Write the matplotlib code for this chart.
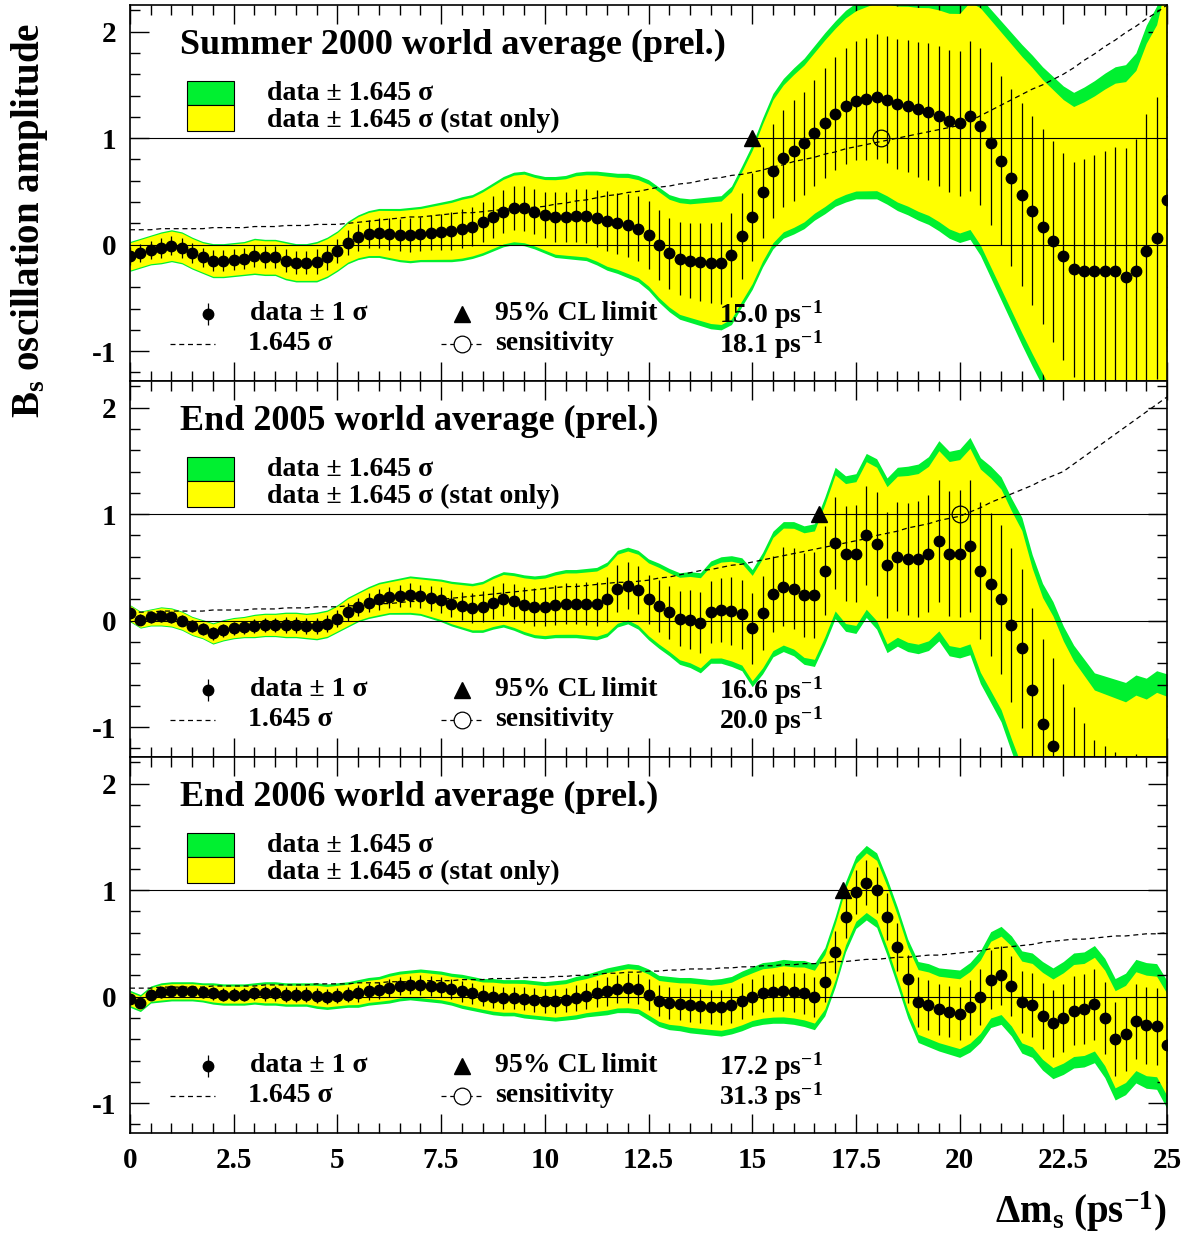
import matplotlib
matplotlib.use("Agg")
import matplotlib.pyplot as plt
import numpy as np
from matplotlib.ticker import MultipleLocator

plt.rcParams['font.family'] = ['Liberation Serif', 'DejaVu Serif']
plt.rcParams['font.weight'] = 'bold'
plt.rcParams['mathtext.fontset'] = 'custom'
plt.rcParams['mathtext.rm'] = 'Liberation Serif:bold'
plt.rcParams['mathtext.bf'] = 'Liberation Serif:bold'
plt.rcParams['mathtext.it'] = 'Liberation Serif:bold'

dm = np.arange(101) * 0.25

titles = ['Summer 2000 world average (prel.)',
          'End 2005 world average (prel.)',
          'End 2006 world average (prel.)']
limits = [15.0, 16.6, 17.2]
sensitivities = [18.1, 20.0, 31.3]
xtick_vals = [0, 2.5, 5, 7.5, 10, 12.5, 15, 17.5, 20, 22.5, 25]
xtick_labels = ['0', '2.5', '5', '7.5', '10', '12.5', '15', '17.5', '20', '22.5', '25']

amp_2000 = [-0.11, -0.08, -0.05, -0.03, -0.01, -0.03, -0.08, -0.12, -0.15, -0.15, -0.14,
            -0.13, -0.11, -0.12, -0.12, -0.15, -0.17, -0.17, -0.16, -0.12, -0.06,
            0.02, 0.07, 0.10, 0.11, 0.10, 0.09, 0.09, 0.10, 0.11, 0.12,
            0.13, 0.15, 0.17, 0.21, 0.26, 0.31, 0.34, 0.34, 0.31, 0.28,
            0.26, 0.26, 0.27, 0.27, 0.25, 0.22, 0.20, 0.18, 0.15, 0.09,
            0.00, -0.08, -0.13, -0.15, -0.16, -0.17, -0.17, -0.10, 0.08,
            0.26, 0.49, 0.69, 0.81, 0.88, 0.95, 1.05, 1.14, 1.23, 1.30,
            1.35, 1.37, 1.39, 1.36, 1.32, 1.30, 1.27, 1.25, 1.21, 1.16,
            1.14, 1.21, 1.11, 0.95, 0.79, 0.63, 0.47, 0.32, 0.17, 0.03,
            -0.11, -0.23, -0.25, -0.25, -0.25, -0.25, -0.30, -0.25, -0.06, 0.06, 0.42]
amp_2005 = [0.07, 0.01, 0.03, 0.04, 0.03, 0.00, -0.05, -0.08, -0.12, -0.09, -0.07,
            -0.06, -0.05, -0.04, -0.04, -0.04, -0.04, -0.05, -0.05, -0.03, 0.02,
            0.08, 0.13, 0.17, 0.20, 0.22, 0.23, 0.24, 0.23, 0.21, 0.19,
            0.16, 0.14, 0.12, 0.13, 0.17, 0.20, 0.18, 0.15, 0.13, 0.13,
            0.15, 0.16, 0.16, 0.16, 0.16, 0.20, 0.30, 0.33, 0.29, 0.20,
            0.14, 0.08, 0.02, 0.01, -0.02, 0.08, 0.10, 0.09, 0.06, -0.07,
            0.07, 0.25, 0.32, 0.30, 0.24, 0.24, 0.47, 0.73, 0.63, 0.63,
            0.80, 0.72, 0.52, 0.60, 0.58, 0.58, 0.63, 0.75, 0.63, 0.63,
            0.70, 0.47, 0.34, 0.20, -0.04, -0.26, -0.65, -0.97, -1.18,
            -1.45, -1.70, -1.90, -2.10, -2.20, -2.30, -2.40, -2.40, -2.50, -2.50, -2.60]
amp_2006 = [-0.02, -0.06, 0.02, 0.04, 0.05, 0.05, 0.05, 0.04, 0.03, 0.02, 0.02,
            0.02, 0.03, 0.03, 0.03, 0.02, 0.02, 0.02, 0.01, 0.00, 0.01,
            0.02, 0.03, 0.05, 0.06, 0.08, 0.10, 0.11, 0.11, 0.10, 0.09,
            0.07, 0.05, 0.03, 0.01, 0.00, -0.01, -0.01, -0.02, -0.03, -0.04,
            -0.04, -0.03, -0.01, 0.01, 0.03, 0.05, 0.07, 0.08, 0.07, 0.02,
            -0.04, -0.06, -0.07, -0.08, -0.09, -0.10, -0.10, -0.08, -0.04, 0.00,
            0.03, 0.04, 0.05, 0.04, 0.03, 0.00, 0.14, 0.42, 0.75, 0.98,
            1.07, 1.00, 0.75, 0.47, 0.17, -0.05, -0.08, -0.12, -0.14, -0.16,
            -0.10, 0.00, 0.16, 0.20, 0.10, -0.05, -0.08, -0.18, -0.25, -0.20,
            -0.13, -0.12, -0.07, -0.20, -0.40, -0.35, -0.23, -0.27, -0.28, -0.45]

# 1.645 sigma (total) per point
sens_2000 = [0.14, 0.14, 0.14, 0.15, 0.15, 0.15, 0.15, 0.15, 0.16, 0.16, 0.16,
             0.16, 0.17, 0.17, 0.17, 0.18, 0.18, 0.18, 0.19, 0.19, 0.19,
             0.20, 0.21, 0.22, 0.23, 0.24, 0.25, 0.26, 0.26, 0.27, 0.28,
             0.29, 0.30, 0.30, 0.31, 0.32, 0.33, 0.34, 0.35, 0.35, 0.36,
             0.38, 0.39, 0.41, 0.42, 0.44, 0.46, 0.47, 0.49, 0.50, 0.52,
             0.54, 0.55, 0.57, 0.58, 0.60, 0.62, 0.63, 0.65, 0.66, 0.68,
             0.70, 0.73, 0.75, 0.78, 0.80, 0.82, 0.85, 0.87, 0.90, 0.92,
             0.94, 0.96, 0.98, 1.00, 1.02, 1.04, 1.06, 1.08, 1.10, 1.12,
             1.16, 1.21, 1.26, 1.31, 1.36, 1.41, 1.46, 1.50, 1.55, 1.60,
             1.66, 1.73, 1.79, 1.86, 1.92, 1.99, 2.05, 2.12, 2.18, 2.25]
sens_2005 = [0.08, 0.08, 0.08, 0.09, 0.09, 0.09, 0.09, 0.09, 0.10, 0.10, 0.10,
             0.10, 0.11, 0.11, 0.11, 0.12, 0.12, 0.12, 0.13, 0.13, 0.13,
             0.14, 0.14, 0.15, 0.16, 0.16, 0.17, 0.18, 0.18, 0.19, 0.20,
             0.21, 0.22, 0.23, 0.24, 0.25, 0.26, 0.27, 0.28, 0.29, 0.30,
             0.31, 0.32, 0.32, 0.33, 0.34, 0.35, 0.36, 0.36, 0.37, 0.38,
             0.40, 0.41, 0.43, 0.45, 0.47, 0.48, 0.50, 0.52, 0.53, 0.55,
             0.57, 0.59, 0.61, 0.63, 0.65, 0.67, 0.69, 0.71, 0.73, 0.75,
             0.77, 0.80, 0.82, 0.84, 0.87, 0.89, 0.91, 0.94, 0.96, 0.98,
             1.02, 1.06, 1.11, 1.15, 1.19, 1.23, 1.27, 1.32, 1.36, 1.40,
             1.47, 1.54, 1.61, 1.68, 1.75, 1.82, 1.89, 1.96, 2.03, 2.10]
sens_2006 = [0.08, 0.08, 0.08, 0.09, 0.09, 0.09, 0.09, 0.09, 0.10, 0.10, 0.10,
             0.10, 0.10, 0.11, 0.11, 0.11, 0.11, 0.11, 0.12, 0.12, 0.12,
             0.12, 0.13, 0.13, 0.13, 0.14, 0.14, 0.14, 0.15, 0.15, 0.15,
             0.15, 0.16, 0.16, 0.16, 0.17, 0.17, 0.17, 0.18, 0.18, 0.18,
             0.19, 0.19, 0.20, 0.20, 0.21, 0.22, 0.22, 0.23, 0.23, 0.24,
             0.24, 0.25, 0.25, 0.26, 0.26, 0.26, 0.27, 0.27, 0.28, 0.28,
             0.29, 0.29, 0.30, 0.30, 0.31, 0.31, 0.32, 0.33, 0.33, 0.34,
             0.35, 0.35, 0.36, 0.37, 0.37, 0.38, 0.39, 0.39, 0.40, 0.41,
             0.42, 0.43, 0.45, 0.46, 0.47, 0.48, 0.49, 0.51, 0.52, 0.53,
             0.54, 0.54, 0.55, 0.56, 0.57, 0.57, 0.58, 0.59, 0.59, 0.60]
stat_frac = [0.92, 0.9, 0.8]

amps = [amp_2000, amp_2005, amp_2006]
senss = [sens_2000, sens_2005, sens_2006]

GREEN = '#00f030'
YELLOW = '#ffff00'

fig = plt.figure(figsize=(11.92, 12.38), dpi=100)
W, H = 1192.0, 1238.0
panel_px = [(5, 381), (381, 757), (757, 1133)]
FS = 20

for k in range(3):
    top, bot = panel_px[k]
    ax = fig.add_axes([130 / W, (H - bot) / H, 1037 / W, (bot - top) / H])
    a = np.array(amps[k])
    s = np.array(senss[k])
    ss = s * stat_frac[k]
    ax.fill_between(dm, a - s, a + s, color=GREEN, lw=0, zorder=1)
    ax.fill_between(dm, a - ss, a + ss, color=YELLOW, lw=0, zorder=2)
    ax.axhline(0, color='black', lw=0.8, zorder=3)
    ax.axhline(1, color='black', lw=0.8, zorder=3)
    ax.plot(dm, s, color='black', ls=(0, (4, 3)), lw=0.9, zorder=4)
    ax.errorbar(dm, a, yerr=s / 1.645, fmt='o', color='black', ms=7.5,
                elinewidth=0.9, capsize=0, zorder=5)
    ax.plot([limits[k]], [1], marker='^', color='black', ms=11, zorder=6)
    ax.plot([sensitivities[k]], [1], marker='o', mfc='none', mec='black',
            ms=12, mew=0.9, zorder=6)
    ax.set_xlim(0, 25)
    ax.set_ylim(-1.28, 2.25)

    ax.set_xticks(xtick_vals)
    ax.xaxis.set_minor_locator(MultipleLocator(0.5))
    ax.set_yticks([-1, 0, 1, 2])
    ax.yaxis.set_minor_locator(MultipleLocator(0.2))
    ax.tick_params(which='both', direction='in', top=True, right=True)
    ax.tick_params(which='major', length=14, width=1)
    ax.tick_params(which='minor', length=7, width=1)
    ax.tick_params(axis='both', labelsize=21, pad=10)
    ax.set_yticklabels(['-1', '0', '1', '2'], fontweight='bold')
    if k < 2:
        ax.set_xticklabels([])
    else:
        ax.set_xticklabels(xtick_labels, fontweight='bold')
    for sp in ax.spines.values():
        sp.set_linewidth(1.2)

    # title and band legend
    ax.text(1.2, 1.87, titles[k], fontsize=26, fontweight='bold', va='center', zorder=7)
    ax.add_patch(plt.Rectangle((1.37, 1.31), 1.14, 0.23, fc=GREEN, ec='black', lw=0.8, zorder=7))
    ax.add_patch(plt.Rectangle((1.37, 1.07), 1.14, 0.24, fc=YELLOW, ec='black', lw=0.8, zorder=7))
    ax.text(3.3, 1.42, 'data ± 1.645 σ', fontsize=FS, fontweight='bold',
            va='center', zorder=7)
    ax.text(3.3, 1.17, 'data ± 1.645 σ (stat only)', fontsize=FS,
            fontweight='bold', va='center', zorder=7)

    # lower legend
    ax.errorbar([1.88], [-0.65], yerr=[0.1], fmt='o', color='black', ms=7.5,
                elinewidth=0.9, capsize=0, zorder=7)
    ax.text(2.9, -0.65, 'data ± 1 σ', fontsize=FS, fontweight='bold',
            va='center', zorder=7)
    ax.plot([0.96, 2.05], [-0.93, -0.93], color='black', ls=(0, (4, 3)), lw=0.9, zorder=7)
    ax.text(2.85, -0.93, '1.645 σ', fontsize=FS, fontweight='bold',
            va='center', zorder=7)
    ax.plot([8.0], [-0.65], marker='^', color='black', ms=11, zorder=7)
    ax.text(8.8, -0.65, '95% CL limit', fontsize=FS, fontweight='bold',
            va='center', zorder=7)
    ax.plot([7.5, 8.5], [-0.93, -0.93], color='black', ls=(0, (4, 3)), lw=0.9, zorder=7)
    ax.plot([8.0], [-0.93], marker='o', mfc='white', mec='black', ms=12, mew=0.9, zorder=8)
    ax.text(8.8, -0.93, 'sensitivity', fontsize=FS, fontweight='bold',
            va='center', zorder=7)
    ax.text(14.2, -0.66, '%.1f ps$^{-1}$' % limits[k], fontsize=FS,
            fontweight='bold', va='center', zorder=7)
    ax.text(14.2, -0.94, '%.1f ps$^{-1}$' % sensitivities[k], fontsize=FS,
            fontweight='bold', va='center', zorder=7)

fig.text(30 / W, 1 - 220 / H, 'B$_{s}$ oscillation amplitude', rotation=90,
         fontsize=28, fontweight='bold', ha='center', va='center')
fig.text(1167 / W, 1 - 1212 / H, 'Δm$_{s}$ (ps$^{-1}$)',
         fontsize=28, fontweight='bold', ha='right', va='center')

fig.savefig('out.png', dpi=100)
